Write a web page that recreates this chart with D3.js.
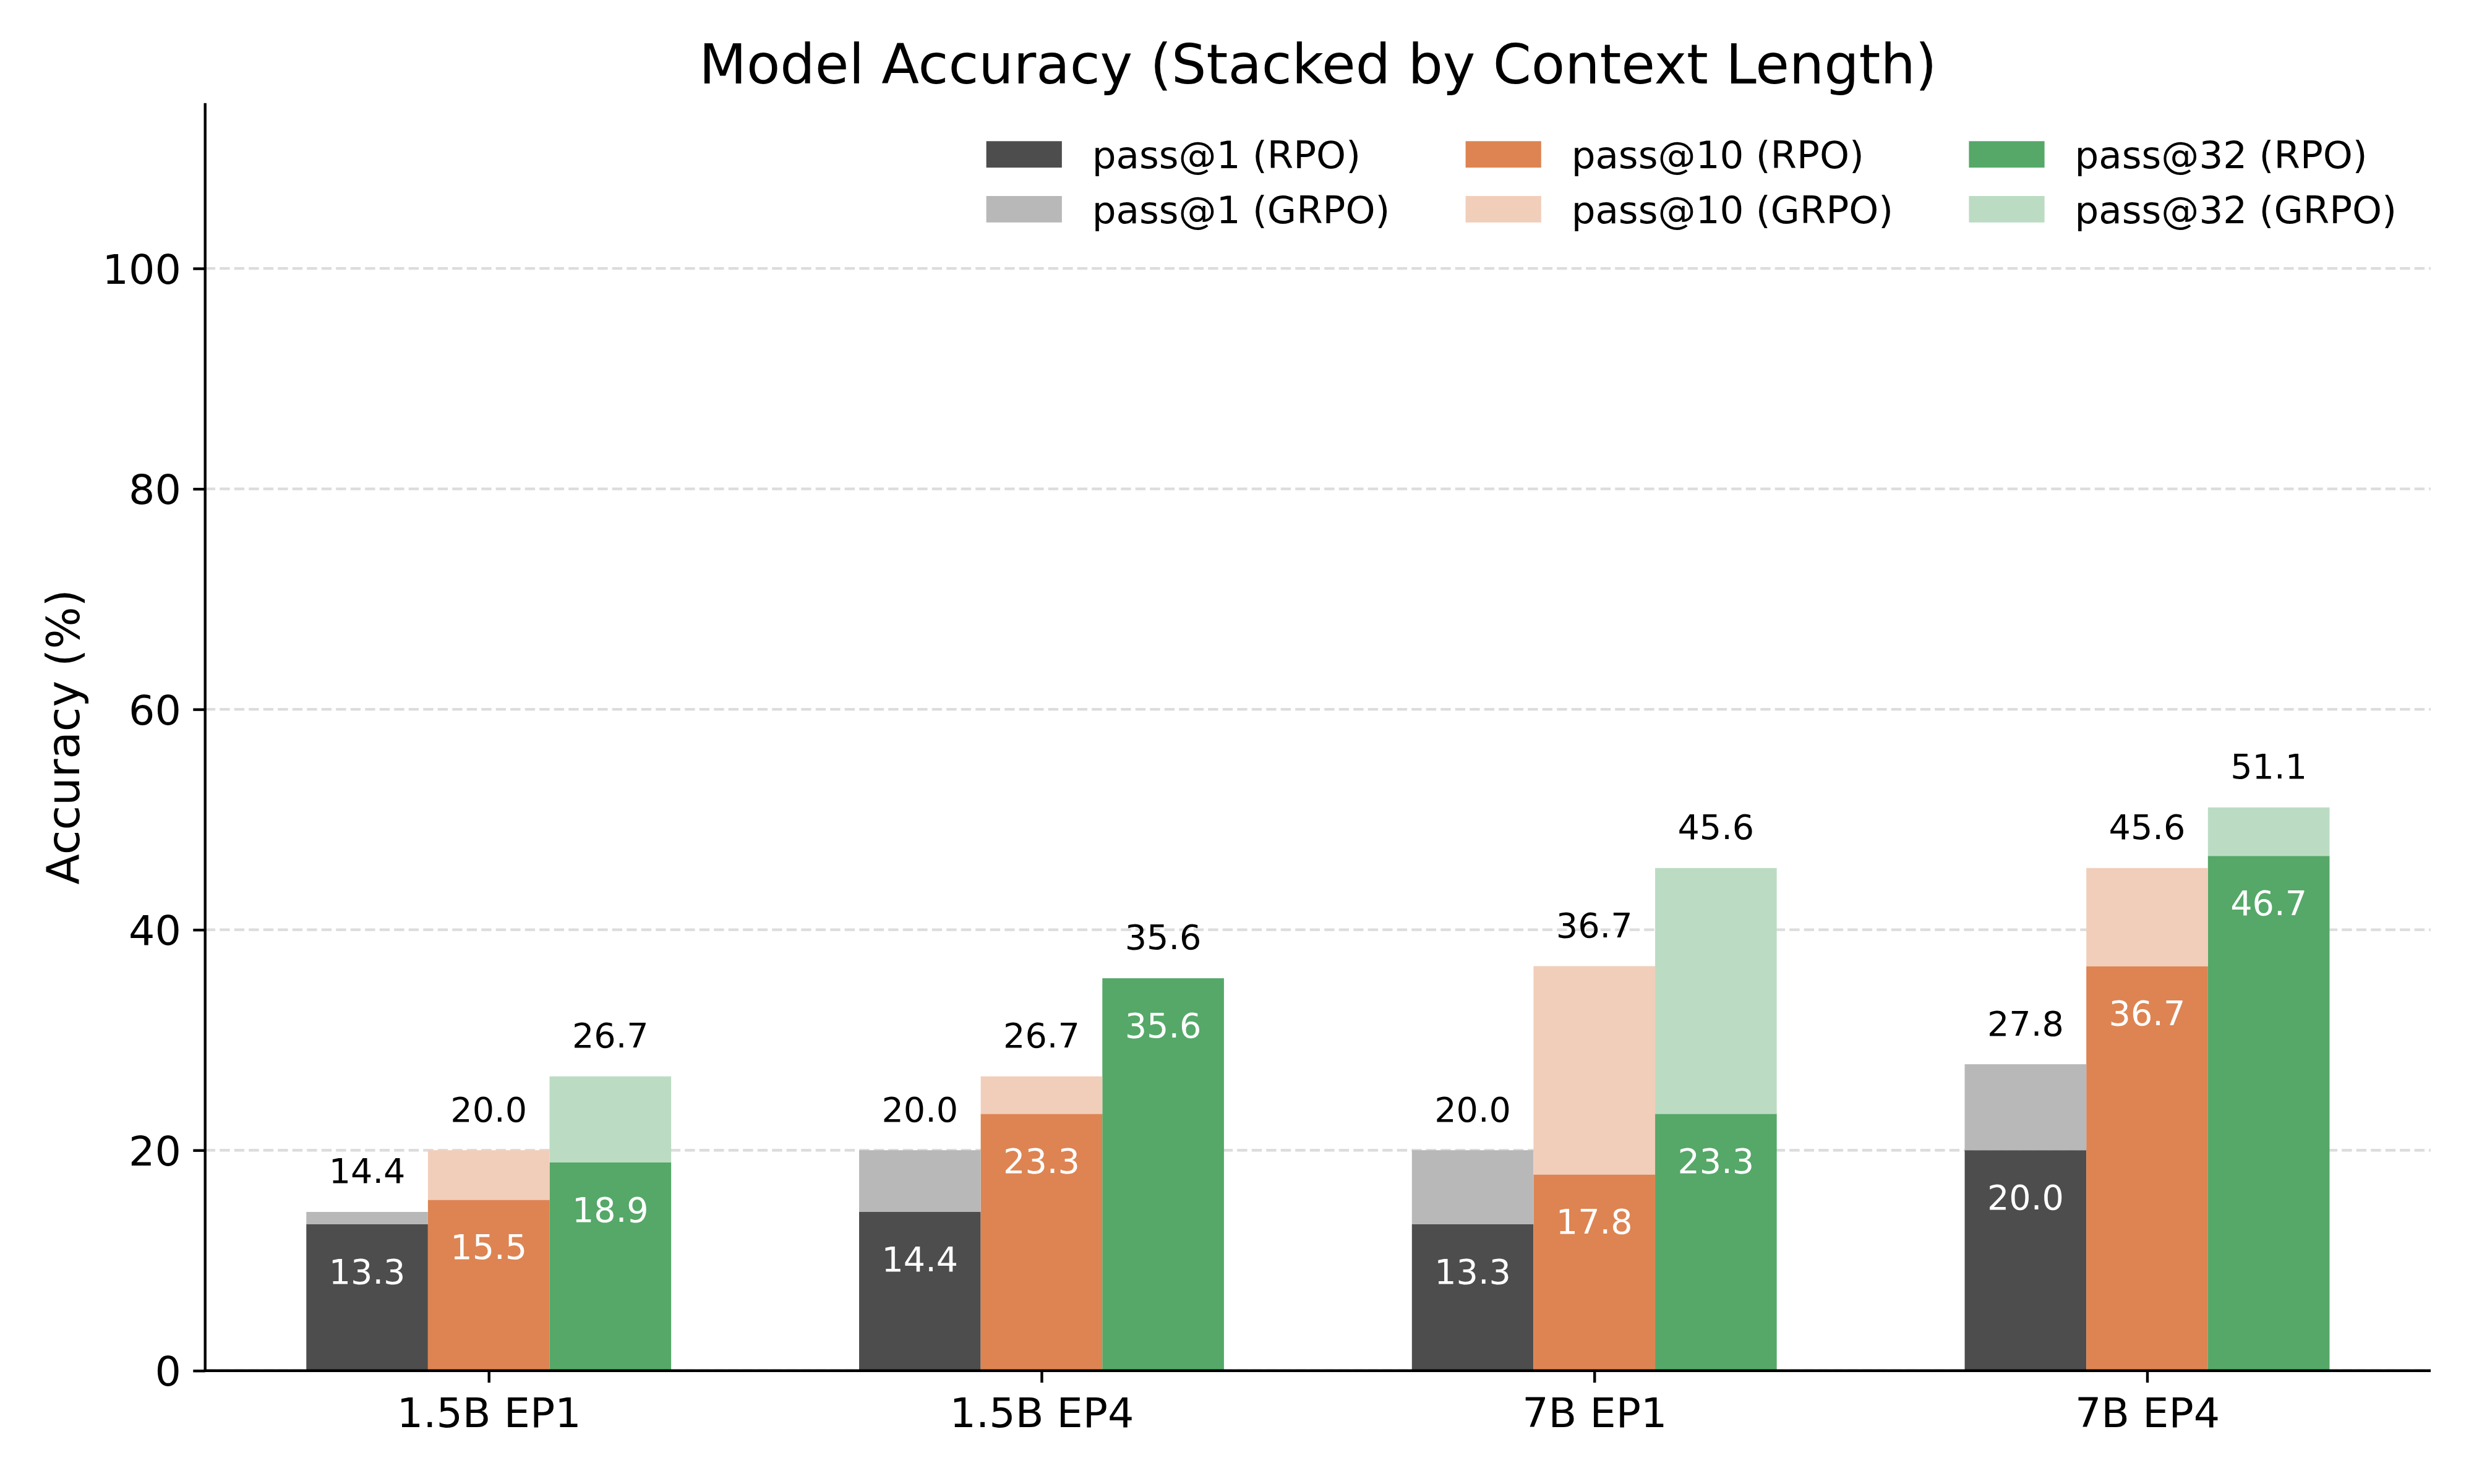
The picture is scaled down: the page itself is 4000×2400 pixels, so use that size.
<!DOCTYPE html>
<html>
<head>
<meta charset="utf-8">
<script src="https://cdn.jsdelivr.net/npm/d3@7"></script>
<style>
	body { margin: 0; background: #ffffff; }
	text { font-family: 'DejaVu Sans', sans-serif; }
</style>
</head>
<body>
<script>
// data
	var groups = ['1.5B EP1', '1.5B EP4', '7B EP1', '7B EP4'],
		metrics = ['pass@1', 'pass@10', 'pass@32'],
		colors = ['#4d4d4d', '#dd8452', '#55a868'];

	var rpo_pass1 = [13.3, 14.4, 13.3, 20.0],
		rpo_pass10 = [15.5, 23.3, 17.8, 36.7],
		rpo_pass32 = [18.9, 35.6, 23.3, 46.7];

	var grpo_pass1 = [14.4, 20.0, 20.0, 27.8],
		grpo_pass10 = [20.0, 26.7, 36.7, 45.6],
		grpo_pass32 = [26.7, 35.6, 45.6, 51.1];

	var y_ticks = [0, 20, 40, 60, 80, 100];

// parameters for layout (window.top is read-only, so plot_* names)
	var width = 4000,
		height = 2400,
		plot_left = 331.7,
		plot_right = 3930,
		plot_top = 166.7,
		plot_bottom = 2216.7,
		bar_w = 0.22,
		y_max = 115,
		lw = 4.4,
		tick_font = 66.7,
		value_font = 55.6,
		legend_font = 61.1;

	var rpo = [rpo_pass1, rpo_pass10, rpo_pass32],
		grpo = [grpo_pass1, grpo_pass10, grpo_pass32];

// flatten into one record per bar
	var bars = [];
	groups.forEach(function(g, i) {
		metrics.forEach(function(m, j) {
			bars.push({ i: i, j: j, rpo: rpo[j][i], grpo: grpo[j][i] });
		});
	});

	var light = function(c) { return d3.interpolateRgb('#ffffff', c)(0.4); };

// scales, matplotlib style margins on x
	var pad = 0.05 * (groups.length - 1 + 3 * bar_w);
	var x = d3.scaleLinear()
		.domain([-1.5 * bar_w - pad, groups.length - 1 + 1.5 * bar_w + pad])
		.range([plot_left, plot_right]);
	var y = d3.scaleLinear()
		.domain([0, y_max])
		.range([plot_bottom, plot_top]);
	var bar_x = function(d) { return x(d.i + (d.j - 1) * bar_w); };
	var bar_px = x(bar_w) - x(0);

// add an svg
	var svg = d3.select('body').append('svg')
		.attr('width', width)
		.attr('height', height)
		.style('background-color', '#ffffff');

// dashed grid
	svg.append('g')
		.selectAll('line')
		.data(y_ticks)
	  .enter().append('line')
		.attr('x1', plot_left)
		.attr('x2', plot_right)
		.attr('y1', function(d) { return y(d); })
		.attr('y2', function(d) { return y(d); })
		.attr('stroke', '#dcdcdc')
		.attr('stroke-width', lw)
		.attr('stroke-dasharray', '16.4,7.1');

// RPO bars, GRPO extra stacked on top
	var bar_g = svg.append('g');
	bar_g.selectAll('rect.rpo')
		.data(bars)
	  .enter().append('rect')
		.attr('class', 'rpo')
		.attr('x', function(d) { return bar_x(d) - bar_px / 2; })
		.attr('width', bar_px)
		.attr('y', function(d) { return y(d.rpo); })
		.attr('height', function(d) { return y(0) - y(d.rpo); })
		.attr('fill', function(d) { return colors[d.j]; });
	bar_g.selectAll('rect.grpo')
		.data(bars)
	  .enter().append('rect')
		.attr('class', 'grpo')
		.attr('x', function(d) { return bar_x(d) - bar_px / 2; })
		.attr('width', bar_px)
		.attr('y', function(d) { return y(d.grpo); })
		.attr('height', function(d) { return Math.max(0, y(d.rpo) - y(d.grpo)); })
		.attr('fill', function(d) { return light(colors[d.j]); });

// value labels
	bar_g.selectAll('text.top')
		.data(bars)
	  .enter().append('text')
		.attr('class', 'top')
		.attr('x', bar_x)
		.attr('y', function(d) { return y(d.grpo) - 46.6; })
		.attr('text-anchor', 'middle')
		.style('font-size', value_font + 'px')
		.attr('fill', '#000000')
		.text(function(d) { return d.grpo.toFixed(1); });
	bar_g.selectAll('text.in')
		.data(bars)
	  .enter().append('text')
		.attr('class', 'in')
		.attr('x', bar_x)
		.attr('y', function(d) { return y(d.rpo) + 96; })
		.attr('text-anchor', 'middle')
		.style('font-size', value_font + 'px')
		.attr('fill', '#ffffff')
		.text(function(d) { return d.rpo.toFixed(1); });

// axes
	var y_axis = svg.append('g')
		.attr('transform', 'translate(' + plot_left + ',0)')
		.call(d3.axisLeft(y).tickValues(y_ticks).tickSize(19.4).tickPadding(19.4));
	var x_axis = svg.append('g')
		.attr('transform', 'translate(0,' + plot_bottom + ')')
		.call(d3.axisBottom(x).tickValues(d3.range(groups.length))
			.tickFormat(function(d) { return groups[d]; })
			.tickSize(19.4).tickPadding(19.4));
	[y_axis, x_axis].forEach(function(a) {
		a.select('.domain').remove();
		a.selectAll('line').attr('stroke', '#000000').attr('stroke-width', lw);
		a.selectAll('text')
			.style('font-family', "'DejaVu Sans', sans-serif")
			.style('font-size', tick_font + 'px')
			.attr('fill', '#000000');
	});
	y_axis.selectAll('text').attr('dy', '0.36em');
	x_axis.selectAll('text').attr('dy', null).attr('y', 2308 - plot_bottom);

// spines
	svg.append('line')
		.attr('x1', plot_left).attr('x2', plot_left)
		.attr('y1', plot_top).attr('y2', plot_bottom + lw / 2)
		.attr('stroke', '#000000').attr('stroke-width', lw);
	svg.append('line')
		.attr('x1', plot_left - lw / 2).attr('x2', plot_right)
		.attr('y1', plot_bottom).attr('y2', plot_bottom)
		.attr('stroke', '#000000').attr('stroke-width', lw);

// title and y label
	svg.append('text')
		.attr('x', (plot_left + plot_right) / 2)
		.attr('y', 135)
		.attr('text-anchor', 'middle')
		.style('font-size', '88.9px')
		.text('Model Accuracy (Stacked by Context Length)');
	svg.append('text')
		.attr('transform', 'translate(128,' + (plot_top + plot_bottom) / 2 + ') rotate(-90)')
		.attr('text-anchor', 'middle')
		.style('font-size', '72.2px')
		.text('Accuracy (%)');

// legend, 3 columns laid out like matplotlib from the right edge
	var items = [];
	metrics.forEach(function(m, j) {
		items.push({ label: m + ' (RPO)', color: colors[j], col: j, row: 0 });
		items.push({ label: m + ' (GRPO)', color: light(colors[j]), col: j, row: 1 });
	});
	var handle_w = 2 * legend_font,
		handle_h = 0.7 * legend_font,
		text_pad = 0.8 * legend_font,
		col_gap = 2 * legend_font,
		row_y = [228.3, 317];

	var legend = svg.append('g');
	var ltext = legend.selectAll('text')
		.data(items)
	  .enter().append('text')
		.style('font-size', legend_font + 'px')
		.text(function(d) { return d.label; });
	var col_w = metrics.map(function(m, j) {
		return d3.max(ltext.filter(function(d) { return d.col === j; }).nodes(),
			function(n) { return n.getComputedTextLength(); });
	});
	var total = d3.sum(col_w) + 3 * (handle_w + text_pad) + 2 * col_gap;
	var col_x = [], cx = plot_right - 0.9 * legend_font - total;
	col_w.forEach(function(w) { col_x.push(cx); cx += handle_w + text_pad + w + col_gap; });

	legend.selectAll('rect')
		.data(items)
	  .enter().append('rect')
		.attr('x', function(d) { return col_x[d.col]; })
		.attr('y', function(d) { return row_y[d.row]; })
		.attr('width', handle_w)
		.attr('height', handle_h)
		.attr('fill', function(d) { return d.color; });
	ltext
		.attr('x', function(d) { return col_x[d.col] + handle_w + text_pad; })
		.attr('y', function(d) { return row_y[d.row] + handle_h / 2 + 22.5; });
</script>
</body>
</html>
